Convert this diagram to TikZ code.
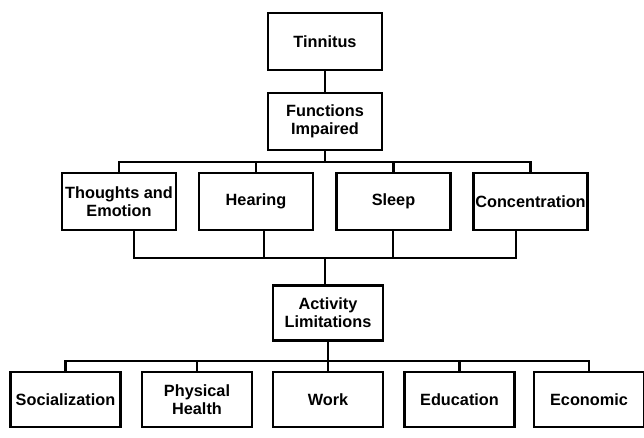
\documentclass[tikz,border=0pt]{standalone}
\usepackage{fontspec}
\setmainfont{Liberation Sans}
\usetikzlibrary{positioning}

\begin{document}
\begin{tikzpicture}[x=0.3mm,y=-0.3mm,line width=1.9pt,
 font=\bfseries\fontsize{13.9}{15.6}\selectfont,
 box/.style={draw,align=center,inner sep=1pt,minimum width=34.2mm,minimum height=17.1mm},
 sub/.style={box,minimum width=33mm,minimum height=16.5mm}]
\useasboundingbox (0,0) rectangle (644,437);
\node[box] (tin) at (325,41.5) {Tinnitus};
\node[box] (func) at (325,121.5) {Functions\\Impaired};
\node[box] (thought) at (119,201.5) {Thoughts and\\Emotion};
\node[box] (hear) at (256,201.5) {Hearing};
\node[box] (sleep) at (393.5,201.5) {Sleep};
\node[box] (conc) at (530.5,201.5) {Concentration};
\node[sub] (act) at (328,313) {Activity\\Limitations};
\node[sub] (soc) at (65.5,399.5) {Socialization};
\node[sub] (phys) at (197,399.5) {Physical\\Health};
\node[sub] (work) at (328,399.5) {Work};
\node[sub] (edu) at (459.5,399.5) {Education};
\node[sub] (econ) at (589,399.5) {Economic};
\coordinate (fbus) at (325,162);
\coordinate (t1) at (134,258);
\coordinate (t2) at (264,258);
\coordinate (t3) at (393,258);
\coordinate (t4) at (516,258);
\coordinate (abus) at (325,258);
\coordinate (lbus) at (328,361);
\draw (tin) -- (func);
\draw (func.south) -- (fbus);
\draw (thought.north) |- (fbus) -| (conc.north);
\draw (hear.north) -- (hear.north |- fbus);
\draw (sleep.north) -- (sleep.north |- fbus);
\draw (t1 |- thought.south) -- (t1) -- (t4) -- (t4 |- conc.south);
\draw (t2 |- hear.south) -- (t2);
\draw (t3 |- sleep.south) -- (t3);
\draw (abus) -- (abus |- act.north);
\draw (act) -- (work);
\draw (soc.north) |- (lbus) -| (econ.north);
\draw (phys.north) -- (phys.north |- lbus);
\draw (edu.north) -- (edu.north |- lbus);
\end{tikzpicture}
\end{document}
